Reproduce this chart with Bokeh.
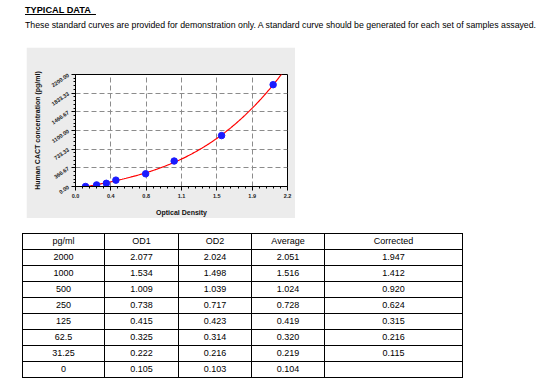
import numpy as np
from bokeh.plotting import figure
from bokeh.models import Div, Spacer, FixedTicker, Label, ColumnDataSource
from bokeh.layouts import column, row
from bokeh.embed import file_html
from bokeh.resources import INLINE

# ---- data ----
conc_labels = ["2000", "1000", "500", "250", "125", "62.5", "31.25", "0"]
conc = [2000, 1000, 500, 250, 125, 62.5, 31.25, 0]
od1 = ["2.077", "1.534", "1.009", "0.738", "0.415", "0.325", "0.222", "0.105"]
od2 = ["2.024", "1.498", "1.039", "0.717", "0.423", "0.314", "0.216", "0.103"]
average = [2.051, 1.516, 1.024, 0.728, 0.419, 0.320, 0.219, 0.104]
corrected = ["1.947", "1.412", "0.920", "0.624", "0.315", "0.216", "0.115", ""]
header = ["pg/ml", "OD1", "OD2", "Average", "Corrected"]

x_ticks = [0.0, 2.2 / 6, 4.4 / 6, 1.1, 8.8 / 6, 11.0 / 6, 2.2]
x_tick_labels = ["0.0", "0.4", "0.8", "1.1", "1.5", "1.9", "2.2"]
y_ticks = [0.0, 2200 / 6, 4400 / 6, 1100.0, 8800 / 6, 11000 / 6, 2200.0]
y_tick_labels = ["0.00", "366.67", "733.33", "1100.00", "1466.67", "1833.33", "2200.00"]
fit_s = "S= 17.33416307"
fit_r = "r= 0.99902197"

FONT = "Liberation Sans"

# ---- chart ----
p = figure(width=269, height=171, x_range=(0, 2.2), y_range=(0, 2200),
           output_backend="svg", toolbar_location=None,
           background_fill_color="white", border_fill_color="#ececec",
           min_border_left=49, min_border_right=8, min_border_top=27,
           min_border_bottom=30)
p.outline_line_color = "black"
p.outline_line_width = 1

xs_minor = list(np.linspace(0, 2.2, 31))
ys_minor = list(np.linspace(0, 2200, 31))
p.xaxis.ticker = FixedTicker(ticks=x_ticks, minor_ticks=xs_minor)
p.yaxis.ticker = FixedTicker(ticks=y_ticks, minor_ticks=ys_minor)
p.xaxis.major_label_overrides = {t: l for t, l in zip(x_ticks, x_tick_labels)}
p.yaxis.major_label_overrides = {t: l for t, l in zip(y_ticks, y_tick_labels)}
p.yaxis.major_label_orientation = 0.6

for ax in (p.xaxis, p.yaxis):
    ax.axis_line_color = "black"
    ax.major_tick_line_color = "black"
    ax.minor_tick_line_color = "black"
    ax.major_tick_out = 4
    ax.major_tick_in = 0
    ax.minor_tick_out = 2
    ax.minor_tick_in = 0
    ax.major_label_text_font = FONT
    ax.major_label_text_font_size = "5.5px"
    ax.major_label_text_font_style = "bold"
    ax.major_label_text_color = "#222222"
    ax.major_label_standoff = 3
    ax.axis_label_text_font = FONT
    ax.axis_label_text_font_size = "7px"
    ax.axis_label_text_font_style = "bold"
    ax.axis_label_text_color = "#111111"

p.xaxis.axis_label = "Optical Density"
p.yaxis.axis_label = "Human CACT concentration (pg/ml)"
p.xaxis.axis_label_standoff = 8
p.yaxis.axis_label_standoff = 6

p.grid.grid_line_color = "#8c8c8c"
p.grid.grid_line_dash = "5 3"
p.grid.grid_line_width = 1

# fitted standard curve (cubic fit to the standards)
coef = np.polyfit(average, conc, 3)
xf = np.linspace(min(average), 2.2, 200)
yf = np.polyval(coef, xf)
p.line(xf, yf, line_color="red", line_width=1.2)

src = ColumnDataSource(dict(x=average, y=conc))
p.scatter("x", "y", source=src, size=6.5, fill_color="#1a1aff", line_color="#1a1aff")

frame_w = 269 - 49 - 8
frame_h = 171 - 27 - 30
p.add_layout(Label(x=frame_w, y=frame_h + 17, x_units="screen", y_units="screen",
                   text=fit_s, text_align="right", text_baseline="middle",
                   text_font=FONT, text_font_size="5px", text_font_style="bold"))
p.add_layout(Label(x=frame_w, y=frame_h + 9, x_units="screen", y_units="screen",
                   text=fit_r, text_align="right", text_baseline="middle",
                   text_font=FONT, text_font_size="5px", text_font_style="bold"))

# ---- header ----
head_html = (
    f'<div style="font-family:\'{FONT}\',Arial,sans-serif;color:#000;">'
    '<div style="font-size:9.2px;font-weight:bold;text-decoration:underline;'
    'margin-left:25px;padding-top:4px;line-height:12px;">TYPICAL DATA&nbsp;&nbsp;</div>'
    '<div style="font-size:8.75px;margin-left:25px;margin-top:4px;line-height:11px;'
    'white-space:nowrap;">These standard curves are provided for demonstration only. '
    'A standard curve should be generated for each set of samples assayed.</div></div>'
)
head = Div(text=head_html, width=548, height=47, margin=0)

# ---- table ----
widths = [82, 74, 73, 73, 138]
cell = ("border:1px solid #000;height:15px;line-height:15px;padding:0;"
        "text-align:center;font-size:9px;")
rows_html = "<tr>" + "".join(f'<td style="{cell}">{h}</td>' for h in header) + "</tr>"
for vals in zip(conc_labels, od1, od2, [f"{a:.3f}" for a in average], corrected):
    rows_html += "<tr>" + "".join(f'<td style="{cell}">{v}</td>' for v in vals) + "</tr>"
table_html = (
    f'<table style="border-collapse:collapse;table-layout:fixed;width:{sum(widths)}px;'
    f'font-family:\'{FONT}\',Arial,sans-serif;color:#000;">'
    "<colgroup>" + "".join(f'<col style="width:{w}px">' for w in widths) + "</colgroup>"
    + rows_html + "</table>"
)
table = Div(text=table_html, width=460, height=147, margin=0)

layout = column(
    head,
    row(Spacer(width=26, height=171), p),
    Spacer(width=10, height=15),
    row(Spacer(width=22, height=147), table),
)

open("out.html", "w").write(file_html(layout, INLINE))
